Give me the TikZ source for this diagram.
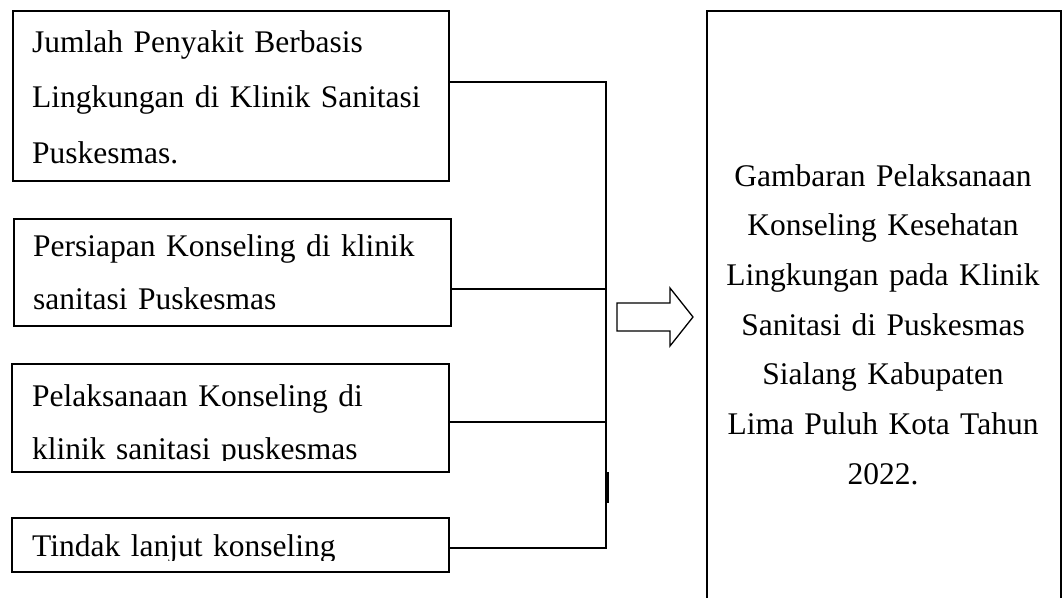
\documentclass[tikz,border=0pt]{standalone}
\usepackage{fontspec}
\setmainfont{Liberation Serif}
\begin{document}
\begin{tikzpicture}[x=1pt,y=-1pt,
  box/.style={draw, line width=1.6pt, inner sep=0pt, anchor=north west},
  lbl/.style={inner sep=0pt, anchor=base west, align=left, text width=420pt},
  link/.style={line width=1.4pt}]
\useasboundingbox (0,0) rectangle (1062,597);
\clip (0,0) rectangle (1062,597);
% boxes
\node[box, minimum width=436pt, minimum height=170pt] (b1) at (12,10) {};
\node[box, minimum width=437pt, minimum height=107pt] (b2) at (13,218) {};
\node[box, minimum width=437pt, minimum height=108pt] (b3) at (11,363) {};
\node[box, minimum width=437pt, minimum height=54pt] (b4) at (11,517) {};
\node[box, minimum width=354pt, minimum height=620pt] (r) at (706,10) {};
% texts
\node[lbl, font=\fontsize{31.5}{55.5}\selectfont] (t1) at (32,52)
  {Jumlah Penyakit Berbasis\\Lingkungan di Klinik Sanitasi\\Puskesmas.};
\node[lbl, font=\fontsize{31.5}{53}\selectfont] (t2) at (33,256)
  {Persiapan Konseling di klinik\\sanitasi Puskesmas};
\begin{scope}
\clip (12,363) rectangle (448,460);
\node[lbl, font=\fontsize{31.5}{53}\selectfont] (t3) at (32,406)
  {Pelaksanaan Konseling di\\klinik sanitasi puskesmas};
\end{scope}
\begin{scope}
\clip (12,517) rectangle (448,560);
\node[lbl, font=\fontsize{31.5}{53}\selectfont] (t4) at (32,556)
  {Tindak lanjut konseling};
\end{scope}
\node[inner sep=0pt, anchor=base, align=center, text width=354pt,
  font=\fontsize{31.5}{49.7}\selectfont] (tr) at (883,186)
  {Gambaran Pelaksanaan\\Konseling Kesehatan\\Lingkungan pada Klinik\\Sanitasi di Puskesmas\\Sialang Kabupaten\\Lima Puluh Kota Tahun\\2022.};
% connectors
\coordinate (j1) at (606,82);
\coordinate (j2) at (606,289);
\coordinate (j3) at (606,422);
\coordinate (j4) at (606,548);
\coordinate (k1) at (607.5,472);
\coordinate (k2) at (607.5,503);
\draw[link] (j1 -| b1.east) -- (j1) -- (j4) -- (j4 -| b4.east);
\draw[link] (j2 -| b2.east) -- (j2);
\draw[link] (j3 -| b3.east) -- (j3);
\draw[line width=2.6pt] (k1) -- (k2);
% block arrow
\draw[line width=1.3pt] (617,303) -- (670,303) -- (670,288) -- (693,317)
  -- (670,346) -- (670,331) -- (617,331) -- cycle;
\end{tikzpicture}
\end{document}
